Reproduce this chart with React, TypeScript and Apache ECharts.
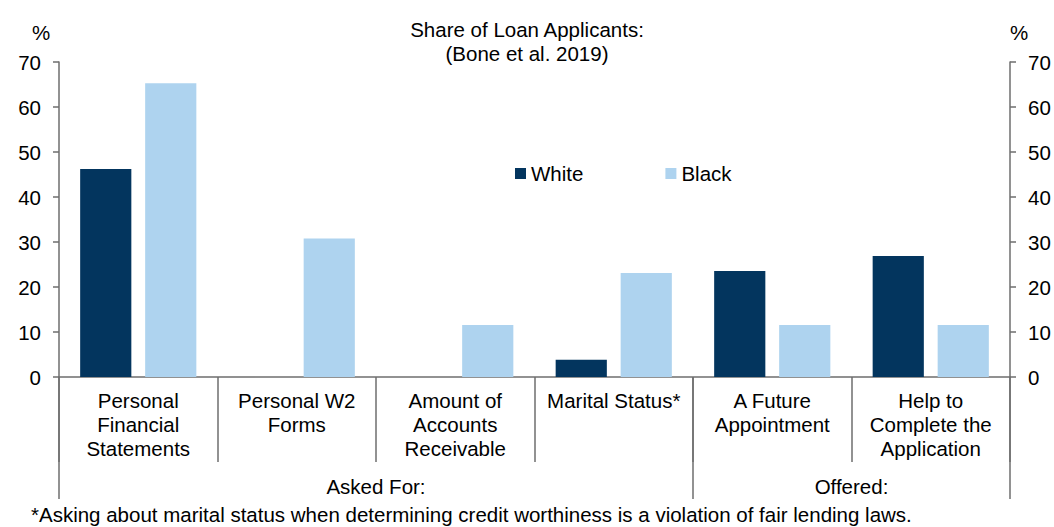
import React, { useEffect, useRef } from "react";
import * as echarts from "echarts";

const categories = [
  "Personal\nFinancial\nStatements",
  "Personal W2\nForms",
  "Amount of\nAccounts\nReceivable",
  "Marital Status*",
  "A Future\nAppointment",
  "Help to\nComplete the\nApplication",
];
const whiteValues = [46.2, 0, 0, 3.85, 23.55, 26.9];
const blackValues = [65.3, 30.8, 11.55, 23.1, 11.55, 11.55];
const groupNames = ["Asked For:", "Offered:"];
const groupCenters = [2, 5];
const groupBounds = [0, 4, 6];

const FONT = "'Liberation Sans', Arial, Helvetica, sans-serif";
const FS = 20.5;
const AXIS = "#6e6e6e";
const DARK = "#03355e";
const LIGHT = "#aed3ef";

export default function App() {
  const ref = useRef<HTMLDivElement>(null);
  useEffect(() => {
    if (!ref.current) return;
    const chart = echarts.init(ref.current, undefined, { renderer: "svg" });
    chart.setOption({
      animation: false,
      textStyle: { fontFamily: FONT, color: "#000" },
      legend: {
        left: 515,
        top: 163,
        padding: 0,
        itemWidth: 11,
        itemHeight: 11,
        itemGap: 82,
        icon: "rect",
        textStyle: { fontFamily: FONT, fontSize: FS, color: "#000" },
        data: ["White", "Black"],
      },
      grid: { left: 59, right: 44, top: 62, bottom: 150 },
      xAxis: [
        {
          type: "category",
          data: categories,
          axisLine: { show: true, lineStyle: { color: AXIS, width: 1.5 } },
          axisTick: { show: true, interval: 0, length: 85, alignWithLabel: false, lineStyle: { color: AXIS, width: 1.5 } },
          axisLabel: { interval: 0, fontFamily: FONT, fontSize: FS, lineHeight: 24, color: "#000", margin: 11 },
        },
        {
          type: "value",
          min: 0,
          max: 6,
          position: "bottom",
          axisLine: { show: false },
          splitLine: { show: false },
          axisTick: { show: true, customValues: groupBounds, length: 122, lineStyle: { color: AXIS, width: 1.5 } },
          axisLabel: {
            show: true,
            customValues: groupCenters,
            fontFamily: FONT,
            fontSize: FS,
            color: "#000",
            margin: 99,
            formatter: (v: number) => groupNames[groupCenters.indexOf(v)] ?? "",
          },
        },
      ],
      yAxis: [
        {
          type: "value",
          min: 0,
          max: 70,
          interval: 10,
          position: "left",
          splitLine: { show: false },
          axisLine: { show: true, lineStyle: { color: AXIS, width: 1.5 } },
          axisTick: { show: true, inside: false, length: 6, lineStyle: { color: AXIS, width: 1.5 } },
          axisLabel: { fontFamily: FONT, fontSize: FS, color: "#000", margin: 18 },
        },
        {
          type: "value",
          min: 0,
          max: 70,
          interval: 10,
          position: "right",
          splitLine: { show: false },
          axisLine: { show: true, lineStyle: { color: AXIS, width: 1.5 } },
          axisTick: { show: true, inside: false, length: 6, lineStyle: { color: AXIS, width: 1.5 } },
          axisLabel: { fontFamily: FONT, fontSize: FS, color: "#000", margin: 18 },
        },
      ],
      series: [
        {
          name: "White",
          type: "bar",
          data: whiteValues,
          itemStyle: { color: DARK },
          barGap: "27%",
          barCategoryGap: "26.7%",
        },
        {
          name: "Black",
          type: "bar",
          data: blackValues,
          itemStyle: { color: LIGHT },
          barGap: "27%",
          barCategoryGap: "26.7%",
        },
      ],
      graphic: [
        {
          type: "text",
          x: 527,
          y: 17,
          style: {
            text: "Share of Loan Applicants:\n(Bone et al. 2019)",
            fontFamily: FONT,
            fontSize: FS,
            lineHeight: 24,
            fill: "#000",
            align: "center",
            verticalAlign: "top",
          },
        },
        { type: "text", left: 32, top: 22, style: { text: "%", fontFamily: FONT, fontSize: FS, fill: "#000" } },
        { type: "text", left: 1010, top: 22, style: { text: "%", fontFamily: FONT, fontSize: FS, fill: "#000" } },
        {
          type: "text",
          left: 31,
          top: 504,
          style: {
            text: "*Asking about marital status when determining credit worthiness is a violation of fair lending laws.",
            fontFamily: FONT,
            fontSize: FS,
            fill: "#000",
          },
        },
      ],
    });
    return () => chart.dispose();
  }, []);
  return <div ref={ref} style={{ width: 1054, height: 527, position: "absolute", left: 0, top: 0 }} />;
}
